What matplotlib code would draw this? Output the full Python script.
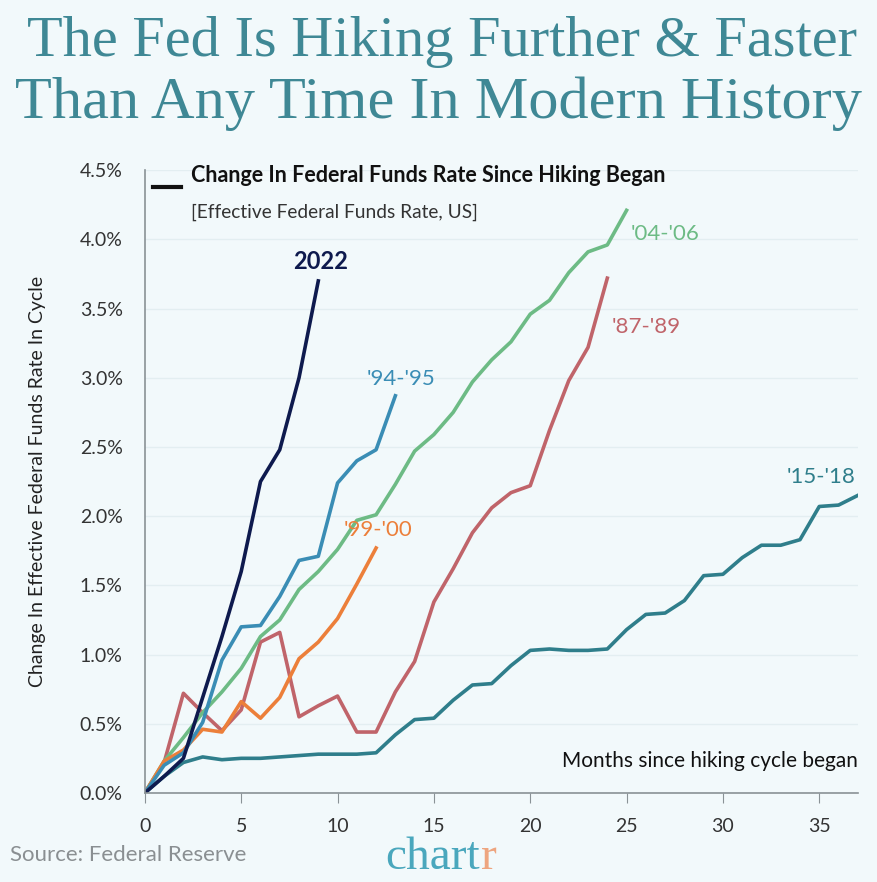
import numpy as np
import matplotlib.pyplot as plt

plt.rcParams['font.family'] = ['Lato', 'DejaVu Sans']

# change in effective fed funds rate (%) by month since hiking began
y2022 = [0, 0.12, 0.25, 0.69, 1.13, 1.60, 2.25, 2.48, 3.00, 3.70]
y9495 = [0, 0.20, 0.29, 0.51, 0.96, 1.20, 1.21, 1.42, 1.68, 1.71, 2.24, 2.40, 2.48, 2.87]
y0406 = [0, 0.23, 0.40, 0.58, 0.73, 0.90, 1.13, 1.25, 1.47, 1.60, 1.76, 1.97, 2.01,
         2.23, 2.47, 2.59, 2.75, 2.97, 3.13, 3.26, 3.46, 3.56, 3.76, 3.91, 3.96, 4.21]
y8789 = [0, 0.22, 0.72, 0.58, 0.45, 0.60, 1.09, 1.16, 0.55, 0.63, 0.70, 0.44, 0.44,
         0.73, 0.95, 1.38, 1.62, 1.88, 2.06, 2.17, 2.22, 2.62, 2.98, 3.22, 3.72]
y9900 = [0, 0.23, 0.31, 0.46, 0.44, 0.66, 0.54, 0.69, 0.97, 1.09, 1.26, 1.51, 1.77]
y1518 = [0, 0.12, 0.22, 0.26, 0.24, 0.25, 0.25, 0.26, 0.27, 0.28, 0.28, 0.28, 0.29,
         0.42, 0.53, 0.54, 0.67, 0.78, 0.79, 0.92, 1.03, 1.04, 1.03, 1.03, 1.04, 1.18,
         1.29, 1.30, 1.39, 1.57, 1.58, 1.70, 1.79, 1.79, 1.83, 2.07, 2.08, 2.15]

bg = '#f2f9fb'
c2022 = '#0e1a4e'
c9495 = '#3a8db5'
c0406 = '#6dbb85'
c8789 = '#c0646a'
c9900 = '#ec7f3a'
c1518 = '#2f7e8b'

fig = plt.figure(figsize=(8.78, 8.82), dpi=100, facecolor=bg)
ax = fig.add_axes([0.165, 0.101, 0.812, 0.706], facecolor=bg)

# draw order: back to front
ax.plot(range(len(y1518)), y1518, color=c1518, lw=2.6)
ax.plot(range(len(y8789)), y8789, color=c8789, lw=2.6)
ax.plot(range(len(y0406)), y0406, color=c0406, lw=2.6)
ax.plot(range(len(y9900)), y9900, color=c9900, lw=2.6)
ax.plot(range(len(y9495)), y9495, color=c9495, lw=2.6)
ax.plot(range(len(y2022)), y2022, color=c2022, lw=2.6)

ax.set_xlim(0, 37)
ax.set_ylim(0, 4.5)
ax.set_xticks(range(0, 36, 5))
ax.set_yticks(np.arange(0, 4.51, 0.5))
ax.set_yticklabels([f'{v:.1f}%' for v in np.arange(0, 4.51, 0.5)])
ax.grid(axis='y', color='#e3eef1', lw=1)
ax.set_axisbelow(True)
for s in ['top', 'right']:
    ax.spines[s].set_visible(False)
for s in ['left', 'bottom']:
    ax.spines[s].set_color('#8a9296')
    ax.spines[s].set_linewidth(1.2)
ax.tick_params(axis='y', length=0, pad=16, labelsize=14, labelcolor='#333333')
ax.tick_params(axis='x', length=7, color='#8a9296', pad=11, labelsize=14, labelcolor='#333333')
ax.set_ylabel('Change In Effective Federal Funds Rate In Cycle', fontsize=14,
              color='#222222', labelpad=24)

# series labels
ax.text(9.1, 3.84, '2022', color=c2022, fontsize=17, fontweight='bold', ha='center', va='center')
ax.text(13.3, 2.99, "'94-'95", color=c9495, fontsize=16, ha='center', va='center')
ax.text(25.2, 4.04, "'04-'06", color=c0406, fontsize=16, ha='left', va='center')
ax.text(24.2, 3.37, "'87-'89", color=c8789, fontsize=16, ha='left', va='center')
ax.text(10.3, 1.90, "'99-'00", color=c9900, fontsize=16, ha='left', va='center')
ax.text(35.1, 2.28, "'15-'18", color=c1518, fontsize=16, ha='center', va='center')
ax.text(37, 0.23, 'Months since hiking cycle began', fontsize=15, color='#111111',
        ha='right', va='center')

# legend-like header
fig.add_artist(plt.Line2D([153 / 878, 181 / 878], [1 - 187 / 882, 1 - 187 / 882],
                          color='#111111', lw=3))
fig.text(191 / 878, 1 - 175 / 882, 'Change In Federal Funds Rate Since Hiking Began',
         fontsize=15.5, fontweight='bold', color='#111111', va='center')
fig.text(191 / 878, 1 - 212 / 882, '[Effective Federal Funds Rate, US]',
         fontsize=13.8, color='#333333', va='center')

# title
fig.text(0.503, 1 - 42 / 882, 'The Fed Is Hiking Further & Faster', fontsize=42,
         family='Liberation Serif', color='#3f8895', ha='center', va='center')
fig.text(0.5, 1 - 104 / 882, 'Than Any Time In Modern History', fontsize=43.5,
         family='Liberation Serif', color='#3f8895', ha='center', va='center')

# footer
fig.text(10 / 878, 1 - 855 / 882, 'Source: Federal Reserve', fontsize=16, color='#8a8f92',
         va='center')
t = fig.text(385 / 878, 1 - 858 / 882, 'chart', fontsize=34, family='Liberation Serif',
             color='#4aa7bd', va='center')
fig.canvas.draw()
bb = t.get_window_extent()
fig.text((bb.x1 + 1) / fig.bbox.width, 1 - 858 / 882, 'r', fontsize=34,
         family='Liberation Serif', color='#eea57f', va='center')

fig.savefig('out.png', dpi=100, facecolor=bg)
